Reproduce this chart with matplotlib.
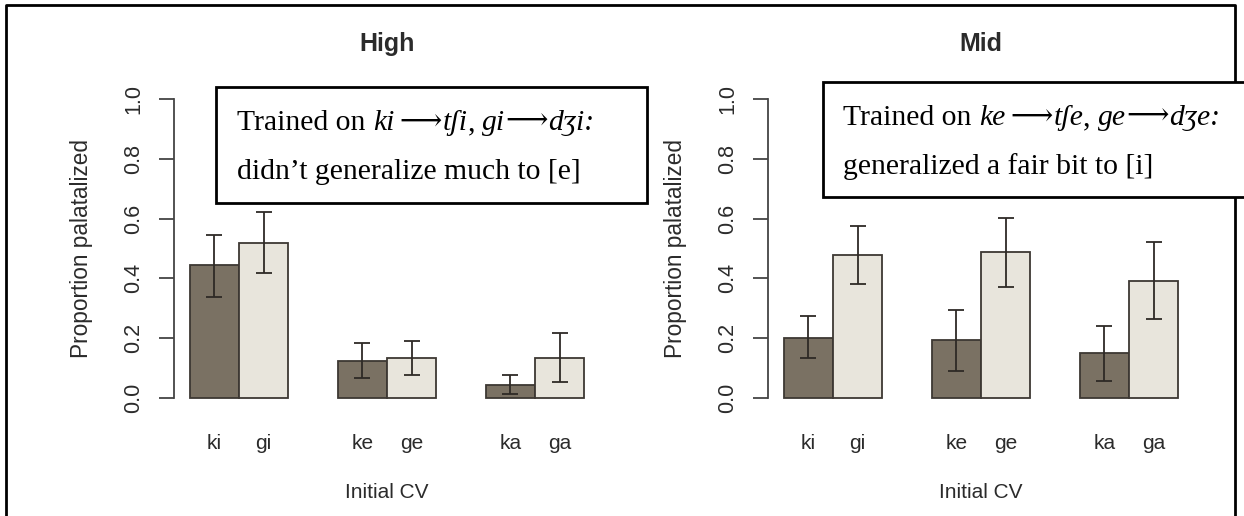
import matplotlib
matplotlib.use("Agg")
import matplotlib.pyplot as plt
from matplotlib.lines import Line2D
from matplotlib.patches import Rectangle
import numpy as np

plt.rcParams['font.family'] = ['Liberation Sans', 'DejaVu Sans']

# data
labels = ["ki", "gi", "ke", "ge", "ka", "ga"]
panels = ["High", "Mid"]
high_vals = [0.444, 0.520, 0.125, 0.135, 0.042, 0.135]
high_lo = [0.338, 0.419, 0.067, 0.076, 0.013, 0.054]
high_hi = [0.545, 0.623, 0.183, 0.192, 0.076, 0.218]
mid_vals = [0.202, 0.477, 0.193, 0.487, 0.150, 0.391]
mid_lo = [0.134, 0.381, 0.092, 0.372, 0.058, 0.265]
mid_hi = [0.275, 0.574, 0.294, 0.603, 0.241, 0.521]

# note text, split into (text, style) runs
note_high = [("Trained on ", "normal"), ("ki", "italic"), ("\u2009\u27f6", "arrow"),
             ("t\u0283i", "italic"), (", ", "normal"), ("gi", "italic"),
             ("\u27f6", "arrow"), ("d\u0292i:", "italic")]
note_high2 = "didn\u2019t generalize much to [e]"
note_mid = [("Trained on ", "normal"), ("ke", "italic"), ("\u2009\u27f6", "arrow"),
            ("t\u0283e", "italic"), (", ", "normal"), ("ge", "italic"),
            ("\u27f6", "arrow"), ("d\u0292e:", "italic")]
note_mid2 = "generalized a fair bit to [i]"

W, H = 1244, 516
DARK = "#7a7163"
LIGHT = "#e8e5dc"
EDGE = "#3d3833"
AXC = "#444444"
TXT = "#2b2b2b"
SERIF = ["Liberation Serif", "DejaVu Serif"]
ARROWF = ["DejaVu Serif", "DejaVu Sans"]
BOXFS = 21.3

def fx(x):
    return x / W

def fy(y):
    return 1 - y / H

fig = plt.figure(figsize=(W / 100, H / 100), dpi=100)

# bar centres: pairs of unit-width bars with a one-bar gap between pairs
pos = np.array([1.5, 2.5, 4.5, 5.5, 7.5, 8.5])
cols = [DARK, LIGHT] * 3

data = [(high_vals, high_lo, high_hi), (mid_vals, mid_lo, mid_hi)]
lefts = [174, 768]
for k, (vals, lo, hi) in enumerate(data):
    ax = fig.add_axes([fx(lefts[k]), fy(410), 426 / W, 323 / H])
    vals = np.array(vals)
    err = [vals - np.array(lo), np.array(hi) - vals]
    ax.bar(pos, vals, width=1.0, color=cols, edgecolor=EDGE, linewidth=1.3)
    ax.errorbar(pos, vals, yerr=err, fmt="none", ecolor="#2e2a26",
                elinewidth=1.3, capsize=5.5, capthick=1.3)
    ax.set_xlim(0.68, 9.32)
    ax.set_ylim(-0.04, 1.04)
    for s in ["top", "right", "bottom"]:
        ax.spines[s].set_visible(False)
    ax.spines["left"].set_bounds(0, 1)
    ax.spines["left"].set_color(AXC)
    ax.spines["left"].set_linewidth(1.3)
    ax.set_yticks(np.arange(0, 1.01, 0.2))
    ax.set_yticklabels(["%.1f" % v for v in np.arange(0, 1.01, 0.2)],
                       rotation=90, va="center", fontsize=15.5, color=TXT)
    ax.tick_params(axis="y", length=10.5, width=1.3, color=AXC, pad=11)
    ax.set_xticks(pos)
    ax.set_xticklabels(labels, fontsize=15, color=TXT)
    ax.tick_params(axis="x", length=0, pad=17)
    ax.set_xlabel("Initial CV", fontsize=15, color=TXT, labelpad=22)
    ax.set_ylabel("Proportion palatalized", fontsize=16.3, color=TXT, labelpad=22)
    ax.set_title(panels[k], fontsize=18, fontweight="bold", color=TXT, pad=26)

# outer frame (bottom edge is cut off)
fig.add_artist(Line2D([fx(6), fx(6), fx(1235), fx(1235)],
                      [fy(520), fy(5), fy(5), fy(520)],
                      transform=fig.transFigure, color="black", lw=2))

renderer = fig.canvas.get_renderer()

def props(style):
    if style == "arrow":
        return dict(family=ARROWF, fontsize=BOXFS, fontweight="light")
    return dict(family=SERIF, fontsize=BOXFS, fontstyle=style)

def advance(s, style):
    # width of a run including trailing spaces
    a = fig.text(0, 0, s + "|", **props(style))
    b = fig.text(0, 0, "|", **props(style))
    w = a.get_window_extent(renderer).width - b.get_window_extent(renderer).width
    a.remove()
    b.remove()
    return w

def runs(x, y, parts):
    for s, style in parts:
        fig.text(fx(x), fy(y), s, va="baseline", ha="left", zorder=6, **props(style))
        x += advance(s, style)

# annotation boxes
boxes = [(216, 87, 647, 203, 237), (823, 82, 1250, 197, 843)]
for (x0, y0, x1, y1, tx), l1, l2 in zip(boxes, [note_high, note_mid],
                                         [note_high2, note_mid2]):
    fig.add_artist(Rectangle((fx(x0), fy(y1)), fx(x1 - x0), (y1 - y0) / H,
                             transform=fig.transFigure, facecolor="white",
                             edgecolor="black", lw=2, zorder=5))
    runs(tx, y0 + 43, l1)
    fig.text(fx(tx), fy(y0 + 92), l2, family=SERIF, fontsize=BOXFS,
             va="baseline", ha="left", zorder=6)

fig.savefig("out.png", dpi=100)
